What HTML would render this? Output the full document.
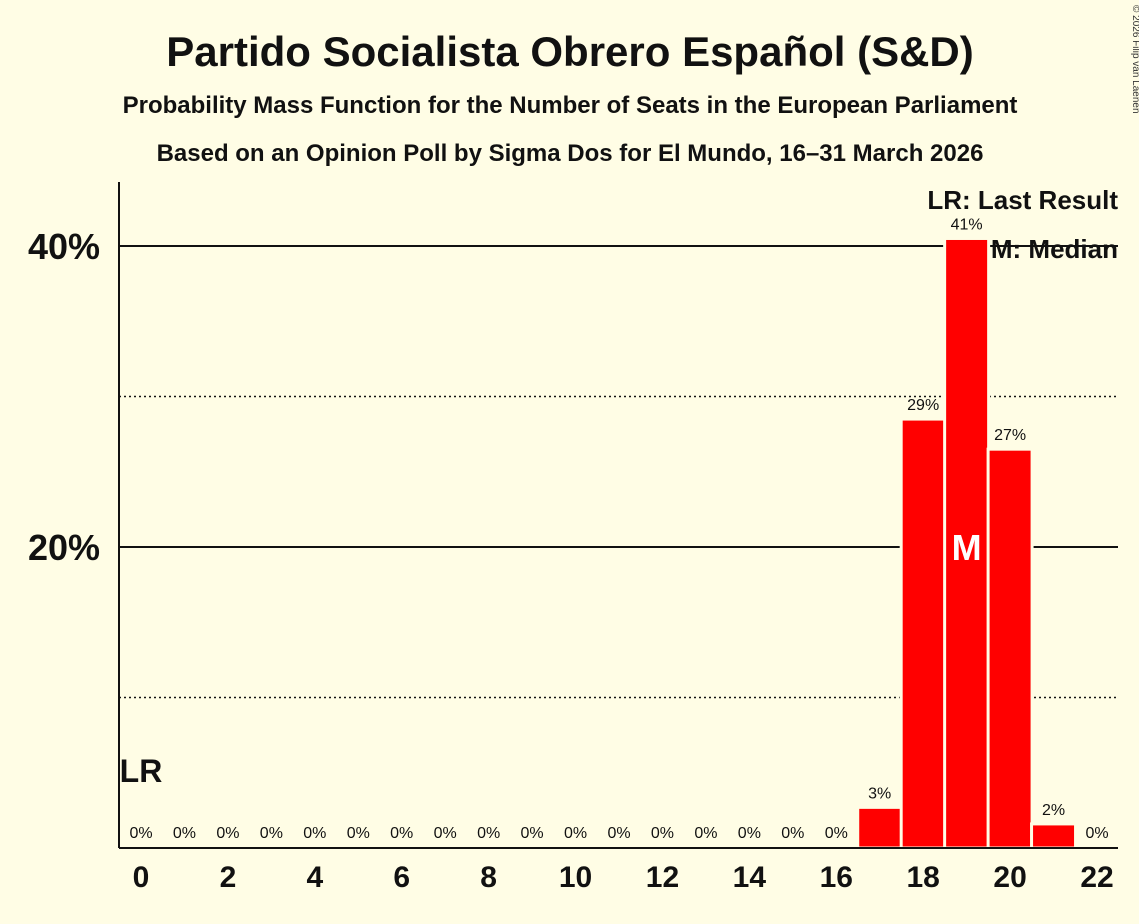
<!DOCTYPE html>
<html><head><meta charset="utf-8"><style>
body{margin:0;background:#fffde5;}
svg{display:block;font-family:"Liberation Sans",sans-serif;}
</style></head><body>
<svg id="c" width="1139" height="924">
<rect width="1139" height="924" fill="#fffde5"/>
<text x="570" y="66" text-anchor="middle" font-size="42" font-weight="bold" fill="#111">Partido Socialista Obrero Español (S&amp;D)</text>
<text x="570" y="113" text-anchor="middle" font-size="24" font-weight="bold" fill="#111">Probability Mass Function for the Number of Seats in the European Parliament</text>
<text x="570" y="161" text-anchor="middle" font-size="24" font-weight="bold" fill="#111">Based on an Opinion Poll by Sigma Dos for El Mundo, 16–31 March 2026</text>
<text x="1133" y="5" transform="rotate(90 1133 5)" font-size="10" fill="#333">© 2026 Filip van Laenen</text>
<g id="grid"></g><g id="bars"></g><g id="labels"></g>
<line x1="119" y1="182" x2="119" y2="848" stroke="#111" stroke-width="2"/>
<line x1="119" y1="848" x2="1118" y2="848" stroke="#111" stroke-width="2"/>
<text x="1118" y="209" text-anchor="end" font-size="26" font-weight="bold" fill="#111">LR: Last Result</text>
<text x="1118" y="258" text-anchor="end" font-size="26" font-weight="bold" fill="#111">M: Median</text>
</svg>
<script>
const seats=[0,1,2,3,4,5,6,7,8,9,10,11,12,13,14,15,16,17,18,19,20,21,22];
const probs=[0,0,0,0,0,0,0,0,0,0,0,0,0,0,0,0,0,2.7,28.5,40.5,26.5,1.6,0];
const valueLabels=["0%","0%","0%","0%","0%","0%","0%","0%","0%","0%","0%","0%","0%","0%","0%","0%","0%","3%","29%","41%","27%","2%","0%"];
const solidTicks=[20,40];
const dottedTicks=[10,30];
const xTicks=[0,2,4,6,8,10,12,14,16,18,20,22];
const medianSeat=19;
const lastResultSeat=0;
const NS="http://www.w3.org/2000/svg";
const X=s=>141+s*(956/22);
const Y=v=>848-v*15.05;
function mk(t,a,p,txt){const e=document.createElementNS(NS,t);for(const k in a)e.setAttribute(k,a[k]);if(txt!==undefined)e.textContent=txt;document.getElementById(p).appendChild(e);return e;}
solidTicks.forEach(v=>{
 const l=mk('line',{x1:119,x2:1118,y1:Y(v),y2:Y(v),stroke:'#111','stroke-width':2},'grid');
 
 
 const t=mk('text',{x:100,y:Y(v)+13,'text-anchor':'end','font-size':36,'font-weight':'bold',fill:'#111'},'grid',v+'%');
 
 
});
dottedTicks.forEach(v=>{
 const l=mk('line',{x1:119,x2:1118,y1:Y(v),y2:Y(v),stroke:'#111','stroke-width':1.5,'stroke-dasharray':'2,3'},'grid');
 
 
});
xTicks.forEach(s=>{
 const t=mk('text',{x:X(s),y:887,'text-anchor':'middle','font-size':30,'font-weight':'bold',fill:'#111'},'labels',String(s));
 
 
});
seats.forEach((s,i)=>{
 const v=probs[i];
 if(v>0){
  const r=mk('rect',{x:X(s)-22,y:Y(v),width:44,height:848-Y(v),fill:'#ff0000',stroke:'#fffde5','stroke-width':3},'bars');
  
  
 }
 const t=mk('text',{x:X(s),y:v>0?Y(v)-9:838,'text-anchor':'middle','font-size':16,fill:'#111'},'labels',valueLabels[i]);
 
 
});
const m=mk('text',{x:X(medianSeat),y:Y(20)+13,'text-anchor':'middle','font-size':36,'font-weight':'bold',fill:'#fff'},'labels','M');


const lr=mk('text',{x:X(lastResultSeat),y:782,'text-anchor':'middle','font-size':32,'font-weight':'bold',fill:'#111'},'labels','LR');


</script>
</body></html>
